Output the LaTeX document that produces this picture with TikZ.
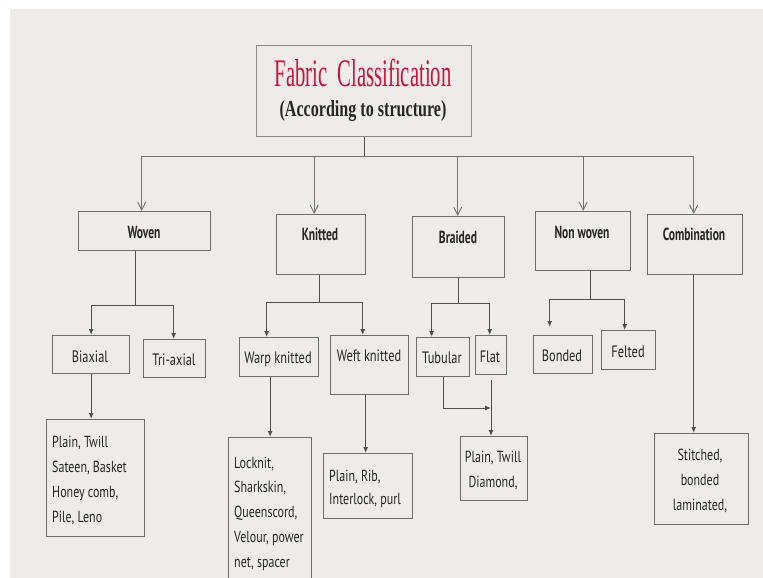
\documentclass[tikz,border=0pt]{standalone}
\usepackage{fontspec}
\setmainfont{Liberation Serif}[FakeStretch=0.7]
\newfontfamily\titlefont{Liberation Serif}[FakeStretch=0.53]
\newfontfamily\lab{PT Sans}[FakeStretch=0.75]
\newfontfamily\headfont{PT Sans}[FakeStretch=0.66]
\usetikzlibrary{arrows.meta,calc}
\definecolor{bg}{HTML}{EFEBE9}
\definecolor{ttl}{HTML}{C8143C}
\definecolor{bord}{HTML}{6E6E6E}
\definecolor{conn}{HTML}{505050}
\tikzset{
  bx/.style={draw=bord, line width=1.3pt, inner sep=0pt, anchor=north west},
  head/.style={font=\headfont\fontsize{17.5}{20}\selectfont\bfseries, text=black!85, inner sep=0pt},
  sub/.style={font=\lab\fontsize{16.5}{24}\selectfont, text=black!85, inner sep=0pt},
  leaf/.style={font=\lab\fontsize{16}{25}\selectfont, text=black!85, inner sep=0pt},
  tarr/.style={draw=conn!80, line width=0.9pt, -{Straight Barb[length=8pt,width=8pt]}},
  larr/.style={draw=conn, line width=1pt, -{Latex[length=6pt,width=5pt]}},
  ln/.style={draw=conn, line width=1pt}
}
\begin{document}
\begin{tikzpicture}[x=1pt,y=-1pt]
\useasboundingbox (0,0) rectangle (763,578);
\fill[bg] (10,9) rectangle (763,578);

% title
\node[draw=bord!80, line width=1pt, inner sep=0pt, anchor=north west, minimum width=215pt, minimum height=91pt] (T) at (256,45) {};
\node[font=\titlefont\fontsize{39}{44}\selectfont, text=ttl, anchor=base, inner sep=0pt] (T1) at (363,87) {Fabric\ \ Classification};
\node[font=\fontsize{23}{28}\selectfont\bfseries, text=black!85, anchor=base, inner sep=0pt] (T2) at (363,116) {(According to structure)};

% level 1 boxes
\node[bx, minimum width=132pt, minimum height=39pt] (W) at (78,211) {};
\node[head, anchor=base] (Wt) at (144,238) {Woven};
\node[bx, minimum width=89pt, minimum height=60pt] (K) at (276,214) {};
\node[head, anchor=base] (Kt) at (320,240) {Knitted};
\node[bx, minimum width=92pt, minimum height=61pt] (BR) at (412,216) {};
\node[head, anchor=base] (BRt) at (458,243) {Braided};
\node[bx, minimum width=95pt, minimum height=59pt] (NW) at (535,211) {};
\node[head, anchor=base] (NWt) at (582,238) {Non woven};
\node[bx, minimum width=95pt, minimum height=60pt] (CO) at (647,214) {};
\node[head, anchor=base] (COt) at (694,240) {Combination};

% level 2 boxes
\node[bx, minimum width=77pt, minimum height=38pt] (BI) at (52,335) {};
\node[sub, anchor=base] (BIt) at (90,362) {Biaxial};
\node[bx, minimum width=62pt, minimum height=38pt] (TA) at (143,339) {};
\node[sub, anchor=base] (TAt) at (174,365) {Tri-axial};
\node[bx, minimum width=79pt, minimum height=39pt] (WK) at (239,337) {};
\node[sub, anchor=base] (WKt) at (278,363) {Warp knitted};
\node[bx, minimum width=78pt, minimum height=59pt] (WF) at (330,335) {};
\node[sub, anchor=base] (WFt) at (369,361) {Weft knitted};
\node[bx, minimum width=53pt, minimum height=39pt] (TU) at (416,337) {};
\node[sub, anchor=base] (TUt) at (442,363) {Tubular};
\node[bx, minimum width=31pt, minimum height=39pt] (FL) at (475,335) {};
\node[sub, anchor=base] (FLt) at (490,362) {Flat};
\node[bx, minimum width=59pt, minimum height=38pt] (BO) at (533,335) {};
\node[sub, anchor=base] (BOt) at (562,361) {Bonded};
\node[bx, minimum width=54pt, minimum height=39pt] (FE) at (601,330) {};
\node[sub, anchor=base] (FEt) at (628,357) {Felted};

% leaves
\node[bx, minimum width=98pt, minimum height=117pt] (PW) at (46,419) {};
\node[leaf, anchor=west, align=left] (PWt) at (52,480.5) {Plain, Twill\\Sateen, Basket\\Honey comb,\\Pile, Leno};
\node[bx, minimum width=83pt, minimum height=150pt] (LK) at (228,437) {};
\node[leaf, anchor=west, align=left, font=\lab\fontsize{16}{24.75}\selectfont] (LKt) at (234,513.5) {Locknit,\\Sharkskin,\\Queenscord,\\Velour, power\\net, spacer};
\node[bx, minimum width=89pt, minimum height=65pt] (PR) at (323,453) {};
\node[leaf, anchor=west, align=left, font=\lab\fontsize{16}{23}\selectfont] (PRt) at (329,489) {Plain, Rib,\\Interlock, purl};
\node[bx, minimum width=67pt, minimum height=64pt] (PD) at (460,436) {};
\node[leaf, align=center] (PDt) at (493,470.5) {Plain, Twill\\Diamond,};
\node[bx, minimum width=94pt, minimum height=91pt] (ST) at (654,433) {};
\node[leaf, align=center] (STt) at (700,480.5) {Stitched,\\bonded\\laminated,};

% top bus
\coordinate (bus) at (364,156);
\draw[ln] (T.south -| bus) -- (bus);
\draw[tarr] (bus) -| ([xshift=-3pt]W.north);
\draw[tarr] (bus) -| ([xshift=-7pt]K.north);
\draw[tarr] (bus) -| ([xshift=-1pt]BR.north);
\draw[tarr] (bus) -| (NW.north);
\draw[tarr] (bus) -| ([xshift=-1.5pt]CO.north);

% woven
\coordinate (wj) at (135,305);
\draw[ln] (W.south -| wj) -- (wj);
\draw[larr] (wj) -| (BI.north);
\draw[larr] (wj) -| ([xshift=-1pt]TA.north);
\draw[larr] (BI.south) -- (BI.south |- PW.north);

% knitted
\coordinate (kj) at (319,302);
\draw[ln] (K.south -| kj) -- (kj);
\draw[larr] (kj) -| ([xshift=-12.5pt]WK.north);
\draw[larr] (kj) -| ([xshift=-7pt]WF.north);
\draw[larr] (WK.south -| LK.north) -- (LK.north);
\draw[larr] ([xshift=-2.5pt]PR.north |- WF.south) -- ([xshift=-2.5pt]PR.north);

% braided
\coordinate (bj) at (458,303);
\draw[ln] (BR.south -| bj) -- (bj);
\draw[larr] (bj) -| ([xshift=-11.5pt]TU.north);
\draw[larr] (bj) -| ([xshift=-1.5pt]FL.north);
\coordinate (fj) at (491,408);
\coordinate (fs) at (491,380);
\draw[larr] (TU.south) |- (fj);
\draw[larr] (fs) -- (fs |- PD.north);

% non woven
\coordinate (nj) at (590,299);
\draw[ln] (NW.south -| nj) -- (nj);
\draw[larr, shorten >=8pt] (nj) -| ([xshift=-13.5pt]BO.north);
\draw[larr] (nj) -| ([xshift=-4pt]FE.north);

% combination
\draw[larr] ([xshift=-1.5pt]CO.south) -- ([xshift=-1.5pt]CO.south |- ST.north);
\end{tikzpicture}
\end{document}
